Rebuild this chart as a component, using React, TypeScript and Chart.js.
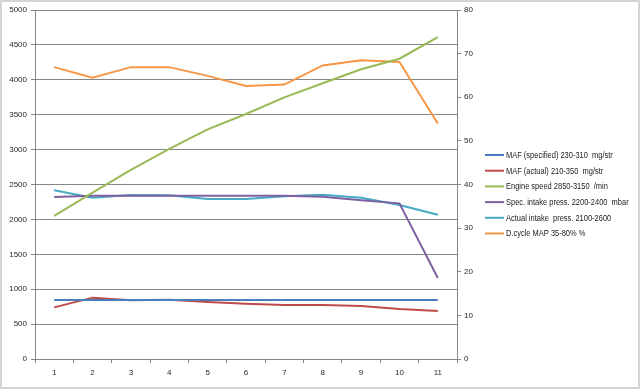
import React, { useEffect, useRef } from "react";
import { Chart, registerables } from "chart.js";

Chart.register(...registerables);

const categories = ["1", "2", "3", "4", "5", "6", "7", "8", "9", "10", "11"];
const mafSpecified = [845, 845, 845, 845, 845, 845, 845, 845, 845, 845, 845];
const mafActual = [740, 879, 840, 850, 817, 792, 774, 774, 759, 716, 688];
const engineSpeed = [2050, 2383, 2708, 3009, 3291, 3510, 3749, 3950, 4151, 4302, 4613];
const specIntake = [2321, 2340, 2340, 2340, 2340, 2340, 2340, 2326, 2273, 2230, 1160];
const actualIntake = [2417, 2311, 2350, 2345, 2292, 2292, 2331, 2354, 2311, 2206, 2067];
const dutyCycle = [66.9, 64.5, 66.9, 66.9, 64.9, 62.6, 62.9, 67.3, 68.5, 68.1, 54.0];

const seriesLabels = [
  "MAF (specified) 230-310  mg/str",
  "MAF (actual) 210-350  mg/str",
  "Engine speed 2850-3150  /min",
  "Spec. intake press. 2200-2400  mbar",
  "Actual intake  press. 2100-2600",
  "D.cycle MAP 35-80% %",
];
const seriesColors = ["#4A7EBB", "#BE4B48", "#98B954", "#7D60A0", "#46AAC5", "#F79646"];

const FONT = "'Liberation Sans', Arial, sans-serif";

const framePlugin = {
  id: "frame",
  beforeDraw(chart: any) {
    const { ctx, width, height } = chart;
    ctx.save();
    ctx.fillStyle = "#ffffff";
    ctx.fillRect(0, 0, width, height);
    ctx.restore();
  },
  afterDraw(chart: any) {
    const { ctx, width, height } = chart;
    ctx.save();
    ctx.strokeStyle = "#d4d4d4";
    ctx.lineWidth = 2;
    ctx.strokeRect(1, 1, width - 2, height - 2);
    // custom legend
    const startX = 485;
    const startY = 155;
    const step = 15.7;
    ctx.font = `8.5px ${FONT}`;
    ctx.textBaseline = "middle";
    ctx.textAlign = "left";
    chart.data.datasets.forEach((ds: any, i: number) => {
      const y = startY + i * step;
      ctx.strokeStyle = ds.borderColor;
      ctx.lineWidth = 2;
      ctx.beginPath();
      ctx.moveTo(startX, y);
      ctx.lineTo(startX + 19, y);
      ctx.stroke();
      ctx.fillStyle = "#1a1a1a";
      ctx.save();
      ctx.translate(startX + 21, y + 0.5);
      ctx.scale(0.88, 1);
      ctx.fillText(ds.label, 0, 0);
      ctx.restore();
    });
    ctx.restore();
  },
};

export default function App() {
  const ref = useRef<HTMLCanvasElement | null>(null);

  useEffect(() => {
    document.body.style.margin = "0";
    const canvas = ref.current!;
    const data = [mafSpecified, mafActual, engineSpeed, specIntake, actualIntake, dutyCycle];
    const chart = new Chart(canvas, {
      type: "line",
      data: {
        labels: categories,
        datasets: data.map((d, i) => ({
          label: seriesLabels[i],
          data: d,
          borderColor: seriesColors[i],
          backgroundColor: seriesColors[i],
          borderWidth: 2,
          pointRadius: 0,
          tension: 0,
          fill: false,
          yAxisID: i === 5 ? "y2" : "y",
        })),
      },
      options: {
        responsive: false,
        animation: false,
        devicePixelRatio: 1,
        layout: { padding: { top: 10, left: 0, right: 0, bottom: 0 } },
        plugins: {
          legend: { display: false },
          tooltip: { enabled: false },
        },
        scales: {
          x: {
            type: "category",
            offset: true,
            grid: {
              display: true,
              offset: true,
              drawOnChartArea: false,
              drawTicks: true,
              tickLength: 4,
              color: "#868686",
            },
            border: { display: true, color: "#868686", width: 1 },
            ticks: {
              font: { family: FONT, size: 8 },
              color: "#262626",
              padding: 5,
              maxRotation: 0,
              autoSkip: false,
            },
            afterFit(scale: any) {
              scale.height = 30;
            },
          },
          y: {
            position: "left",
            min: 0,
            max: 5000,
            grid: {
              color: "#868686",
              drawTicks: true,
              tickLength: 4,
            },
            border: { display: true, color: "#868686", width: 1 },
            ticks: {
              stepSize: 500,
              font: { family: FONT, size: 8 },
              color: "#262626",
              padding: 4,
              callback: (v: any) => String(v),
            },
            afterFit(scale: any) {
              scale.width = 35;
            },
          },
          y2: {
            position: "right",
            min: 0,
            max: 80,
            grid: {
              drawOnChartArea: false,
              drawTicks: true,
              tickLength: 4,
              color: "#868686",
            },
            border: { display: true, color: "#868686", width: 1 },
            ticks: {
              stepSize: 10,
              font: { family: FONT, size: 8 },
              color: "#262626",
              padding: 3,
              callback: (v: any) => String(v),
            },
            afterFit(scale: any) {
              scale.width = 183;
            },
          },
        },
      },
      plugins: [framePlugin],
    });
    return () => chart.destroy();
  }, []);

  return <canvas ref={ref} width={640} height={389} style={{ display: "block" }} />;
}
